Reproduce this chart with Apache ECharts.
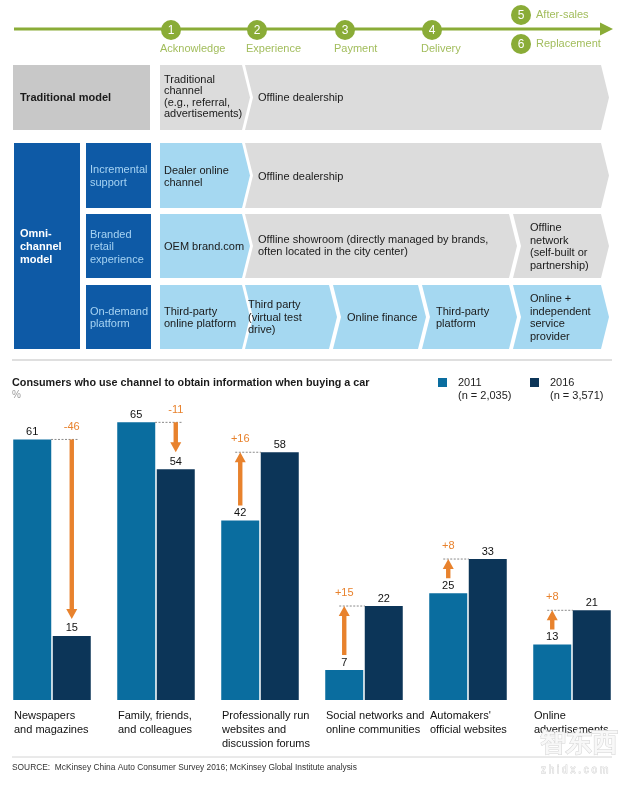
<!DOCTYPE html>
<html><head><meta charset="utf-8">
<script src="https://cdn.jsdelivr.net/npm/echarts@6/dist/echarts.min.js"></script>
<style>html,body{margin:0;padding:0;background:#fff}#c{width:629px;height:786px}</style>
</head><body><div id="c"></div>
<script>
// ---------- data ----------
const categories = ['Newspapers\nand magazines', 'Family, friends,\nand colleagues', 'Professionally run\nwebsites and\ndiscussion forums', 'Social networks and\nonline communities', 'Automakers\'\nofficial websites', 'Online\nadvertisements'];
const values2011 = [61, 65, 42, 7, 25, 13];
const values2016 = [15, 54, 58, 22, 33, 21];
const seriesNames = ['2011', '2016'];
const sampleSizes = ['(n = 2,035)', '(n = 3,571)'];
const chartTitle = 'Consumers who use channel to obtain information when buying a car';
const unitLabel = '%';
const sourceNote = 'SOURCE:  McKinsey China Auto Consumer Survey 2016; McKinsey Global Institute analysis';
const journeySteps = ['Acknowledge', 'Experience', 'Payment', 'Delivery', 'After-sales', 'Replacement'];
const traditionalCells = ['Traditional\nchannel\n(e.g., referral,\nadvertisements)', 'Offline dealership'];
const omniRowLabels = ['Incremental\nsupport', 'Branded\nretail\nexperience', 'On-demand\nplatform'];
const incrementalCells = ['Dealer online\nchannel', 'Offline dealership'];
const brandedCells = ['OEM brand.com', 'Offline showroom (directly managed by brands,\noften located in the city center)', 'Offline\nnetwork\n(self-built or\npartnership)'];
const onDemandCells = ['Third-party\nonline platform', 'Third party\n(virtual test\ndrive)', 'Online finance', 'Third-party\nplatform', 'Online +\nindependent\nservice\nprovider'];

// ---------- styles ----------
const FONT = '"Liberation Sans", Arial, sans-serif';
const C2011 = '#0a6d9f', C2016 = '#0c3558', ORANGE = '#e8822d';
const GREEN = '#8aac37', GREEN_TXT = '#a2bd5c';
const GRAY_BOX = '#c8c8c8', GRAY_CHEV = '#dcdcdc', LBLUE = '#a5d8f1', DBLUE = '#0e5aa6';
const BAR_W = 38;

function txt(x, y, text, o) {
  o = o || {};
  return { type: 'text', x: x, y: y, z: 10, silent: true, style: {
    text: text, fill: o.fill || '#1a1a1a', fontSize: o.size || 11, fontFamily: FONT,
    fontWeight: o.bold ? 'bold' : 'normal', align: o.align || 'left', verticalAlign: 'middle',
    lineHeight: o.lh || 12.5, stroke: o.stroke, lineWidth: o.lw || 0 } };
}
function chev(x1, x2, y1, y2, notch, fill) {
  const m = (y1 + y2) / 2, d = 8;
  const pts = [[x1, y1], [x2, y1], [x2 + d, m], [x2, y2], [x1, y2]];
  if (notch) pts.push([x1 + d, m]);
  return { type: 'polygon', silent: true, shape: { points: pts }, style: { fill: fill } };
}
function rect(x, y, w, h, fill) {
  return { type: 'rect', silent: true, shape: { x: x, y: y, width: w, height: h }, style: { fill: fill } };
}

const g = [];
// timeline
g.push({ type: 'line', silent: true, shape: { x1: 14, y1: 29, x2: 603, y2: 29 }, style: { stroke: GREEN, lineWidth: 3 } });
g.push({ type: 'polygon', silent: true, shape: { points: [[600, 22.5], [613, 29], [600, 35.5]] }, style: { fill: GREEN } });
const stepPos = [[171, 30], [257, 30], [345, 30], [432, 30], [521, 15], [521, 44]];
stepPos.forEach((p, i) => {
  g.push({ type: 'circle', silent: true, shape: { cx: p[0], cy: p[1], r: 10 }, style: { fill: GREEN } });
  g.push(txt(p[0], p[1] + 0.5, String(i + 1), { fill: '#fff', size: 12, align: 'center' }));
  if (i < 4) g.push(txt(p[0] - 11, 48.5, journeySteps[i], { fill: GREEN_TXT }));
  else g.push(txt(p[0] + 15, p[1], journeySteps[i], { fill: GREEN_TXT }));
});

// traditional row
g.push(rect(13, 65, 137, 65, GRAY_BOX));
g.push(txt(20, 98, 'Traditional model', { bold: true }));
g.push(chev(160, 242, 65, 130, false, GRAY_CHEV));
g.push(chev(245, 601, 65, 130, true, GRAY_CHEV));
g.push(txt(164, 97, traditionalCells[0], { lh: 11.5 }));
g.push(txt(258, 98, traditionalCells[1]));

// omni-channel
g.push(rect(14, 143, 66, 206, DBLUE));
g.push(txt(20, 246.5, 'Omni-\nchannel\nmodel', { bold: true, fill: '#fff', lh: 13 }));
const rows = [[143, 208], [214, 278], [285, 349]];
rows.forEach((r, i) => {
  g.push(rect(86, r[0], 65, r[1] - r[0], DBLUE));
  g.push(txt(90, (r[0] + r[1]) / 2 + 1, omniRowLabels[i], { fill: '#a6d3f3' }));
});
// row 1
g.push(chev(160, 242, 143, 208, false, LBLUE));
g.push(chev(245, 601, 143, 208, true, GRAY_CHEV));
g.push(txt(164, 177, incrementalCells[0]));
g.push(txt(258, 177, incrementalCells[1]));
// row 2
g.push(chev(160, 242, 214, 278, false, LBLUE));
g.push(chev(245, 509, 214, 278, true, GRAY_CHEV));
g.push(chev(513, 601, 214, 278, true, GRAY_CHEV));
g.push(txt(164, 247, brandedCells[0]));
g.push(txt(258, 246, brandedCells[1]));
g.push(txt(530, 247, brandedCells[2]));
// row 3
g.push(chev(160, 242, 285, 349, false, LBLUE));
g.push(chev(245, 329, 285, 349, true, LBLUE));
g.push(chev(333, 418, 285, 349, true, LBLUE));
g.push(chev(422, 509, 285, 349, true, LBLUE));
g.push(chev(513, 601, 285, 349, true, LBLUE));
g.push(txt(164, 318, onDemandCells[0]));
g.push(txt(248, 317.5, onDemandCells[1]));
g.push(txt(347, 317.5, onDemandCells[2]));
g.push(txt(436, 318, onDemandCells[3]));
g.push(txt(530, 318, onDemandCells[4]));

// separators
g.push({ type: 'line', silent: true, shape: { x1: 12, y1: 360, x2: 612, y2: 360 }, style: { stroke: '#d4d4d4', lineWidth: 1.5 } });
g.push({ type: 'line', silent: true, shape: { x1: 12, y1: 757, x2: 612, y2: 757 }, style: { stroke: '#d4d4d4', lineWidth: 1 } });
g.push(txt(12, 768, sourceNote, { size: 8.4, fill: '#333' }));
// legend sample sizes
g.push(txt(458, 395.5, sampleSizes[0], { fill: '#222' }));
g.push(txt(550, 395.5, sampleSizes[1], { fill: '#222' }));
// watermark
g.push(txt(540, 744, '智东西', { size: 26, bold: true, fill: '#f8f8f8', stroke: '#d2d2d2', lw: 1, lh: 28 }));
g.push(txt(541, 770, 'z h i d x . c o m', { size: 10, fill: '#f6f6f6', stroke: '#d0d0d0', lw: 0.8 }));

const chart = echarts.init(document.getElementById('c'), null, { renderer: 'canvas' });
chart.setOption({
  animation: false,
  backgroundColor: '#fff',
  textStyle: { fontFamily: FONT },
  title: { text: chartTitle, subtext: unitLabel, left: 12, top: 377, itemGap: 1, padding: 0,
    textStyle: { fontSize: 10.8, fontWeight: 'bold', color: '#1a1a1a', lineHeight: 12, fontFamily: FONT },
    subtextStyle: { fontSize: 10, color: '#9a9a9a', lineHeight: 11, fontFamily: FONT } },
  legend: [
    { data: [seriesNames[0]], left: 438, top: 377, padding: 0, icon: 'rect', itemWidth: 9, itemHeight: 9, selectedMode: false,
      textStyle: { fontSize: 11, color: '#222', padding: [0, 0, 0, 6], fontFamily: FONT } },
    { data: [seriesNames[1]], left: 530, top: 377, padding: 0, icon: 'rect', itemWidth: 9, itemHeight: 9, selectedMode: false,
      textStyle: { fontSize: 11, color: '#222', padding: [0, 0, 0, 6], fontFamily: FONT } }
  ],
  grid: { left: 0, right: 5, top: 401, bottom: 86, containLabel: false },
  xAxis: { type: 'category', data: categories, axisLine: { show: false }, axisTick: { show: false },
    axisLabel: { interval: 0, margin: 9, verticalAlign: 'top', color: '#111', fontSize: 11, lineHeight: 14,
      formatter: v => v.split('\n').map(s => '{a|' + s + '}').join('\n'),
      rich: { a: { width: 76, align: 'left', fontSize: 11, lineHeight: 14, color: '#111', fontFamily: FONT } } } },
  yAxis: { type: 'value', min: 0, max: 70, show: false, splitLine: { show: false } },
  series: [
    { name: seriesNames[0], type: 'bar', data: values2011, barWidth: BAR_W, barGap: '4%', itemStyle: { color: C2011 },
      label: { show: true, position: 'top', distance: 2, fontSize: 11, color: '#111', fontFamily: FONT } },
    { name: seriesNames[1], type: 'bar', data: values2016, barWidth: BAR_W, barGap: '4%', itemStyle: { color: C2016 },
      label: { show: true, position: 'top', distance: 2, fontSize: 11, color: '#111', fontFamily: FONT } },
    { name: 'change', type: 'custom', silent: true, z: 5,
      data: categories.map((c, i) => [i, values2011[i], values2016[i]]),
      renderItem: function (params, api) {
        const i = api.value(0), a = api.value(1), b = api.value(2);
        const pa = api.coord([i, a]), pb = api.coord([i, b]);
        const c = pa[0], off = (BAR_W + BAR_W * 0.04) / 2;
        const x11 = c - off, x16 = c + off;
        const d = b - a, lbl = (d > 0 ? '+' : '') + d;
        const sw = 2.2, hw = 5.5, hl = 10;
        let ax, y0, y1, lx1, lx2, ly, ty, pts;
        if (d < 0) {
          ax = x16; y0 = pa[1]; y1 = pb[1] - 17; lx1 = c - 1; lx2 = x16 + 6; ly = pa[1]; ty = pa[1] - 12;
          pts = [[ax - sw, y0], [ax + sw, y0], [ax + sw, y1 - hl], [ax + hw, y1 - hl], [ax, y1], [ax - hw, y1 - hl], [ax - sw, y1 - hl]];
        } else {
          ax = x11; y0 = pa[1] - 15; y1 = pb[1]; lx1 = x11 - 5; lx2 = c + 1; ly = pb[1]; ty = pb[1] - 13;
          pts = [[ax - sw, y0], [ax + sw, y0], [ax + sw, y1 + hl], [ax + hw, y1 + hl], [ax, y1], [ax - hw, y1 + hl], [ax - sw, y1 + hl]];
        }
        return { type: 'group', children: [
          { type: 'line', shape: { x1: lx1, y1: ly, x2: lx2, y2: ly }, style: { stroke: '#8a8a8a', lineWidth: 1, lineDash: [2, 1.5] } },
          { type: 'polygon', shape: { points: pts }, style: { fill: ORANGE } },
          { type: 'text', x: ax, y: ty, style: { text: lbl, fill: ORANGE, fontSize: 11, fontFamily: FONT, align: 'center', verticalAlign: 'middle' } }
        ] };
      }
    }
  ],
  graphic: g
});
</script>
</body></html>
